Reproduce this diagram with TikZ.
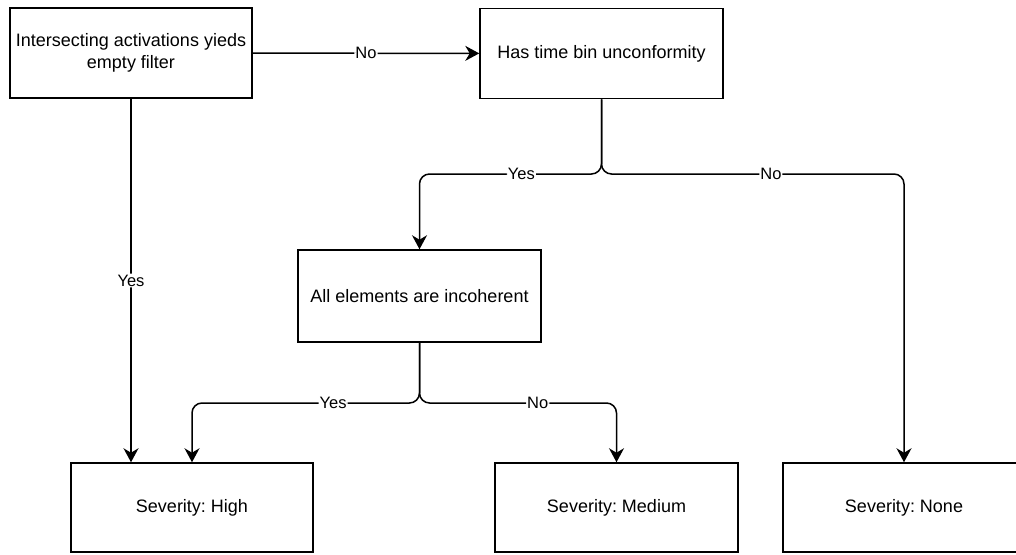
\documentclass[tikz,border=0pt]{standalone}
\usepackage{fontspec}
\setmainfont{Liberation Sans}
\usetikzlibrary{arrows.meta}
\frenchspacing

\tikzset{
	box/.style={draw, line width=1.5pt, minimum width=242pt, minimum height=90pt, align=center, inner sep=0pt, font=\fontsize{18}{21.6}\selectfont},
	conn/.style={line width=1.5pt, rounded corners=10pt, -{Stealth[length=14pt,width=15pt,inset=4.5pt]}},
	lbl/.style={fill=white, inner sep=1pt, font=\fontsize{16.5}{19}\selectfont}
}

\begin{document}
\begin{tikzpicture}[x=1pt, y=-1pt]
		%%%%% START %%%%%
		\useasboundingbox (0, 0) rectangle (1016, 554);
		
		\node[box] (filter) at (131, 53) {Intersecting activations yieds\\empty filter};
		\node[box, minimum width=243pt] (timebin) at (601.5, 53.5) {Has time bin unconformity};
		\node[box, minimum width=243pt, minimum height=92pt] (incoh) at (419.5, 296) {All elements are incoherent};
		
		\node[box, minimum height=89pt] (high) at (192, 507.5) {Severity: High};
		\node[box, minimum width=243pt, minimum height=89pt] (medium) at (616.5, 507.5) {Severity: Medium};
		\node[box, minimum height=89pt] (none) at (904, 507.5) {Severity: None};
		
		\draw[conn] (filter) -- node[lbl] {No} (timebin);
		\draw[conn] (filter.south) -- node[lbl] {Yes} (filter.south |- high.north);
		
		\draw[conn] (timebin.south) -- (601.5, 174) -| node[lbl, pos=0.22] {Yes} (incoh.north);
		\draw[conn] (timebin.south) -- (601.5, 174) -| node[lbl, pos=0.28] {No} (none.north);
		
		\draw[conn] (incoh.south) -- (419.5, 403) -| node[lbl, pos=0.19] {Yes} (high.north);
		\draw[conn] (incoh.south) -- (419.5, 403) -| node[lbl, pos=0.3] {No} (medium.north);
		%%%%% END %%%%%
	\end{tikzpicture}
\end{document}
